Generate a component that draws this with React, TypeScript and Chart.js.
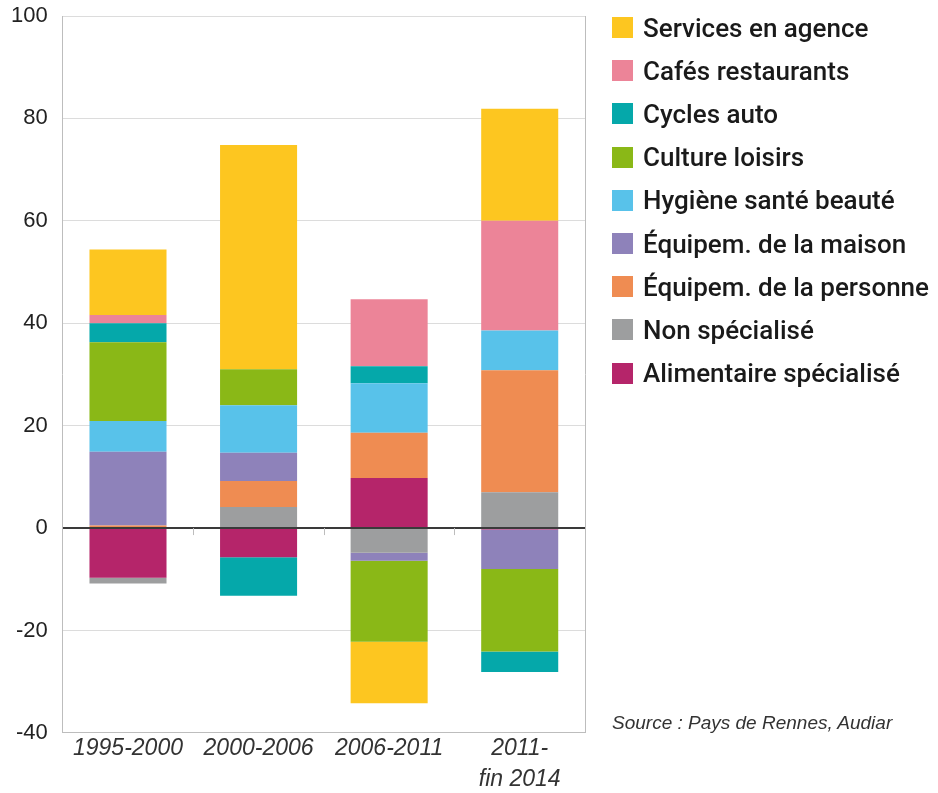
import React, { useEffect, useRef } from "react";
import { Chart, registerables } from "chart.js";

Chart.register(...registerables);

const categories: (string | string[])[] = ["1995-2000", "2000-2006", "2006-2011", ["2011-", "fin 2014"]];

// stacking order (bottom to top); legend shown reversed
const alimentaire = [-9.7, -5.7, 9.8, -0.3];
const nonSpecialise = [-1.1, 4.1, -4.8, 7.0];
const equipPersonne = [0.5, 5.1, 8.8, 23.8];
const equipMaison = [14.4, 5.5, -1.6, -7.7];
const hygiene = [6.0, 9.3, 9.7, 7.8];
const culture = [15.4, 7.0, -15.8, -16.1];
const cycles = [3.7, -7.5, 3.3, -4.0];
const cafes = [1.6, 0, 13.1, 21.4];
const services = [12.8, 43.8, -12.0, 21.9];

const yTicks = [-40, -20, 0, 20, 40, 60, 80, 100];

const seriesDefs = [
  { label: "Alimentaire spécialisé", data: alimentaire, color: "#B5256A" },
  { label: "Non spécialisé", data: nonSpecialise, color: "#9D9E9F" },
  { label: "Équipem. de la personne", data: equipPersonne, color: "#EF8C52" },
  { label: "Équipem. de la maison", data: equipMaison, color: "#8E82BA" },
  { label: "Hygiène santé beauté", data: hygiene, color: "#58C2EA" },
  { label: "Culture loisirs", data: culture, color: "#8AB817" },
  { label: "Cycles auto", data: cycles, color: "#05A8AA" },
  { label: "Cafés restaurants", data: cafes, color: "#EC8498" },
  { label: "Services en agence", data: services, color: "#FDC620" },
];

const framePlugin = {
  id: "frame",
  beforeDatasetsDraw(chart: any) {
    const { ctx, chartArea } = chart;
    const x = chart.scales.x;
    const y = chart.scales.y;
    ctx.save();
    ctx.strokeStyle = "#bdbdbd";
    ctx.lineWidth = 1;
    ctx.beginPath();
    ctx.moveTo(chartArea.right + 0.5, chartArea.top);
    ctx.lineTo(chartArea.right + 0.5, chartArea.bottom);
    ctx.stroke();
    const zeroY = y.getPixelForValue(0);
    const n = categories.length;
    for (let i = 0; i < n - 1; i++) {
      const bx = Math.round((x.getPixelForValue(i) + x.getPixelForValue(i + 1)) / 2) + 0.5;
      ctx.beginPath();
      ctx.moveTo(bx, zeroY);
      ctx.lineTo(bx, zeroY + 7);
      ctx.stroke();
    }
    ctx.restore();
  },
};

export default function App() {
  const ref = useRef<HTMLCanvasElement | null>(null);
  useEffect(() => {
    if (!ref.current) return;
    const chart = new Chart(ref.current, {
      type: "bar",
      data: {
        labels: categories,
        datasets: seriesDefs.map((s) => ({
          label: s.label,
          data: s.data,
          backgroundColor: s.color,
          borderWidth: 0,
          barPercentage: 0.59,
          categoryPercentage: 1.0,
        })),
      },
      options: {
        responsive: false,
        animation: false,
        layout: { padding: { left: 11, top: 16, right: 353, bottom: -2 } },
        plugins: {
          tooltip: { enabled: false },
          legend: { display: false },
        },
        scales: {
          x: {
            stacked: true,
            grid: { display: false, drawTicks: false },
            border: { display: true, color: "#bdbdbd" },
            ticks: {
              padding: 0,
              color: "#333",
              maxRotation: 0,
              font: { family: "'Liberation Sans', Arial, sans-serif", size: 23, style: "italic", lineHeight: 1.35 },
            },
          },
          y: {
            stacked: true,
            min: -40,
            max: 100,
            afterBuildTicks: (scale: any) => {
              scale.ticks = yTicks.map((v) => ({ value: v }));
            },
            grid: {
              drawTicks: true,
              tickLength: 15,
              tickColor: "rgba(0,0,0,0)",
              color: (c: any) => (c.tick && c.tick.value === 0 ? "#3a3a3a" : "#dcdcdc"),
              lineWidth: (c: any) => (c.tick && c.tick.value === 0 ? 2 : 1),
            },
            border: { display: true, color: "#bdbdbd" },
            ticks: {
              padding: 0,
              color: "#222",
              font: { family: "'Liberation Sans', Arial, sans-serif", size: 22 },
            },
          },
        },
      },
      plugins: [framePlugin],
    });
    return () => chart.destroy();
  }, []);

  const legendItems = [...seriesDefs].reverse();
  return (
    <div style={{ position: "absolute", left: 0, top: 0, width: 938, height: 793 }}>
      <canvas ref={ref} width={938} height={793} style={{ display: "block" }} />
      <div style={{ position: "absolute", left: 612, top: 6, width: 326 }}>
        {legendItems.map((s) => (
          <div
            key={s.label}
            style={{ display: "flex", alignItems: "center", height: 43.2, whiteSpace: "nowrap" }}
          >
            <span style={{ display: "inline-block", width: 21, height: 21, background: s.color, marginRight: 10, flex: "none" }} />
            <span
              style={{
                fontFamily: "Roboto, 'Liberation Sans', sans-serif",
                fontWeight: 500,
                fontSize: 26,
                color: "#1a1a1a",
              }}
            >
              {s.label}
            </span>
          </div>
        ))}
      </div>
      <div
        style={{
          position: "absolute",
          left: 612,
          top: 712,
          fontFamily: "'Liberation Sans', Arial, sans-serif",
          fontStyle: "italic",
          fontSize: 19,
          color: "#333",
          whiteSpace: "nowrap",
        }}
      >
        Source : Pays de Rennes, Audiar
      </div>
    </div>
  );
}
